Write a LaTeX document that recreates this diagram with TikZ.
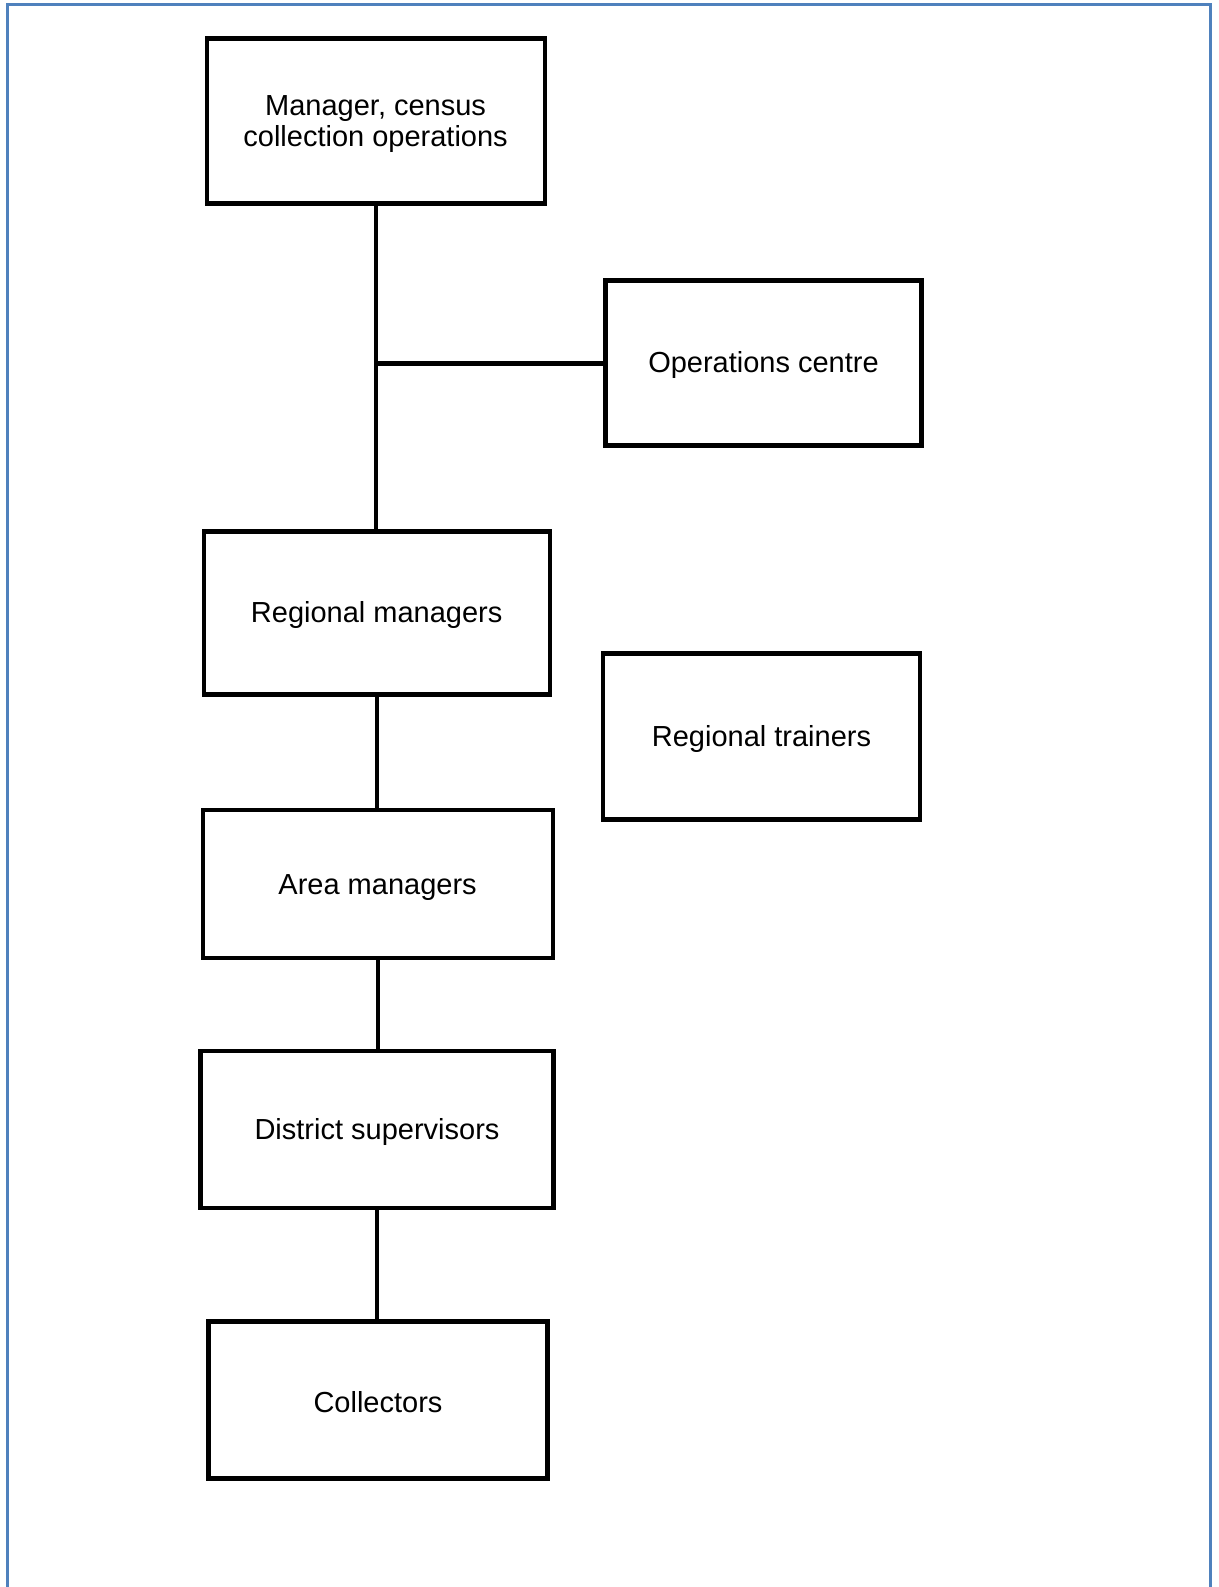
\documentclass[tikz,border=0pt]{standalone}
\usepackage{fontspec}
\setmainfont{Liberation Sans}
\definecolor{framblue}{HTML}{4F81BD}
\newcommand\lowstrut{\rule{0pt}{26pt}}
\begin{document}
\begin{tikzpicture}[x=1pt,y=-1pt,
  orgbox/.style={draw=black,line width=4.2pt,rectangle,inner sep=0pt,outer sep=0pt,
    align=center,font=\fontsize{29}{30.5}\selectfont},
  link/.style={line width=4.2pt,draw=black}]
\useasboundingbox (0,0) rectangle (1218,1587);
\fill[white] (0,0) rectangle (1218,1587);
\draw[framblue,line width=3pt] (7,1587) -- (7,5) -- (1210.5,5) -- (1210.5,1587);

\node[orgbox,minimum width=338pt,minimum height=165pt] (top) at (375.6,121) {\lowstrut Manager, census\\collection operations};
\node[orgbox,minimum width=316pt,minimum height=165pt] (ops) at (763.5,363) {\lowstrut Operations centre};
\node[orgbox,minimum width=346pt,minimum height=163pt] (reg) at (376.7,613) {\lowstrut Regional managers};
\node[orgbox,minimum width=317pt,minimum height=166pt] (trn) at (761.5,736.5) {\lowstrut Regional trainers};
\node[orgbox,minimum width=350pt,minimum height=148pt] (area) at (377.6,884) {\lowstrut Area managers};
\node[orgbox,minimum width=353pt,minimum height=157pt] (dist) at (377,1129.5) {\lowstrut District supervisors};
\node[orgbox,minimum width=339pt,minimum height=157pt] (coll) at (378,1400) {\lowstrut Collectors};

\coordinate (j) at (376.6,363.5);
\draw[link] (top.south) -- (top.south |- reg.north);
\draw[link] (j) -- (ops.west |- j);
\draw[link] (reg.south) -- (reg.south |- area.north);
\draw[link] (area.south) -- (area.south |- dist.north);
\draw[link] (dist.south) -- (dist.south |- coll.north);
\end{tikzpicture}
\end{document}
